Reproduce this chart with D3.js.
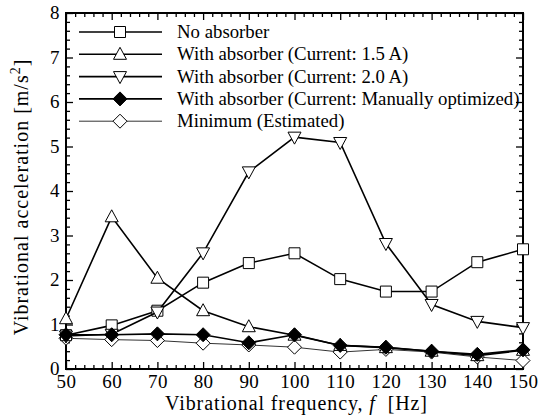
<!DOCTYPE html>
<html>
<head>
<meta charset="utf-8">
<script src="https://cdn.jsdelivr.net/npm/d3@7"></script>
<style>
  body { margin: 0; background: #fff; }
</style>
</head>
<body>
<svg id="svg" width="544" height="416"></svg>
<script>
const WIDTH = 544
const HEIGHT = 416
const LEFT = 66, RIGHT = 523, TOP = 13, BOTTOM = 369
const FONT = '"Liberation Serif", "Times New Roman", Times, serif'

const freqs = [50, 60, 70, 80, 90, 100, 110, 120, 130, 140, 150]
const noAbsorber = [0.76, 0.98, 1.31, 1.94, 2.38, 2.60, 2.02, 1.74, 1.74, 2.40, 2.69]
const current15 = [1.13, 3.42, 2.04, 1.31, 0.95, 0.76, 0.53, 0.48, 0.40, 0.30, 0.42]
const current20 = [0.74, 0.78, 1.28, 2.61, 4.43, 5.21, 5.09, 2.82, 1.45, 1.07, 0.93]
const optimized = [0.77, 0.77, 0.79, 0.77, 0.59, 0.77, 0.53, 0.49, 0.40, 0.33, 0.43]
const minimum = [0.69, 0.66, 0.64, 0.58, 0.54, 0.49, 0.38, 0.44, 0.38, 0.27, 0.19]

const seriesNames = [
  'No absorber',
  'With absorber (Current: 1.5 A)',
  'With absorber (Current: 2.0 A)',
  'With absorber (Current: Manually optimized)',
  'Minimum (Estimated)'
]
const xTicks = [50, 60, 70, 80, 90, 100, 110, 120, 130, 140, 150]
const yTicks = [0, 1, 2, 3, 4, 5, 6, 7, 8]

const SVG = d3.select('#svg')

const x = d3.scaleLinear().domain([50, 150]).range([LEFT, RIGHT])
const y = d3.scaleLinear().domain([0, 8]).range([BOTTOM, TOP])

const xMinor = d3.range(50, 151, 2).filter(v => v % 10 !== 0)
const yMinor = d3.range(0, 8.01, 0.2).filter(v => Math.abs(v - Math.round(v)) > 0.01)

// ticks on all four sides, pointing inward
function addAxis(axis, transform, values, size, labels) {
  const g = SVG.append('g')
    .attr('transform', transform)
    .call(axis.tickValues(values).tickSize(size).tickPadding(labels ? 10 : 0)
      .tickFormat(labels ? d3.format('d') : ''))
  g.attr('font-family', FONT)
  g.select('.domain').remove()
  g.selectAll('line').attr('stroke', '#000').attr('stroke-width', 1.3)
  g.selectAll('text').style('font-size', '19px').style('font-family', FONT)
    .style('letter-spacing', '0.4px').attr('fill', '#000')
  return g
}

addAxis(d3.axisBottom(x), `translate(0,${BOTTOM})`, xMinor, -4, false)
addAxis(d3.axisTop(x), `translate(0,${TOP})`, xMinor, -4, false)
addAxis(d3.axisLeft(y), `translate(${LEFT},0)`, yMinor, -4, false)
addAxis(d3.axisRight(y), `translate(${RIGHT},0)`, yMinor, -4, false)
addAxis(d3.axisTop(x), `translate(0,${TOP})`, xTicks, -7, false)
addAxis(d3.axisRight(y), `translate(${RIGHT},0)`, yTicks, -7, false)

const xAx = addAxis(d3.axisBottom(x), `translate(0,${BOTTOM})`, xTicks, -7, true)
xAx.selectAll('text').attr('y', 6).attr('dy', '0.71em')
const yAx = addAxis(d3.axisLeft(y), `translate(${LEFT},0)`, yTicks, -7, true)
yAx.selectAll('text').attr('x', -6).attr('dy', '0.3em')

SVG.append('rect')
  .attr('x', LEFT).attr('y', TOP)
  .attr('width', RIGHT - LEFT).attr('height', BOTTOM - TOP)
  .attr('fill', 'none').attr('stroke', '#000').attr('stroke-width', 2)

// axis titles
const xTitle = SVG.append('text')
  .attr('x', (LEFT + RIGHT) / 2 + 2).attr('y', 410)
  .attr('text-anchor', 'middle').style('font-size', '20px').style('font-family', FONT)
  .style('letter-spacing', '0.9px')
xTitle.append('tspan').text('Vibrational frequency, ')
xTitle.append('tspan').style('font-style', 'italic').text('f')
xTitle.append('tspan').text('  [Hz]').attr('xml:space', 'preserve')

const yTitle = SVG.append('text')
  .attr('transform', `translate(28,${(TOP + BOTTOM) / 2 + 6}) rotate(-90)`)
  .attr('text-anchor', 'middle').style('font-size', '20px').style('font-family', FONT)
  .style('letter-spacing', '1px')
yTitle.append('tspan').text('Vibrational acceleration [m/s')
yTitle.append('tspan').attr('dy', -8).style('font-size', '14px').text('2')
yTitle.append('tspan').attr('dy', 8).text(']')

// marker shapes
const markers = {
  square: 'M-5.5,-5.5H5.5V5.5H-5.5Z',
  up: 'M0,-7L6.5,5L-6.5,5Z',
  down: 'M0,7L6.5,-5L-6.5,-5Z',
  diamond: 'M0,-7L7,0L0,7L-7,0Z'
}

const series = [
  { name: seriesNames[4], values: minimum, shape: 'diamond', fill: '#fff', stroke: '#333', width: 1 },
  { name: seriesNames[0], values: noAbsorber, shape: 'square', fill: '#fff', stroke: '#000', width: 1.6 },
  { name: seriesNames[1], values: current15, shape: 'up', fill: '#fff', stroke: '#000', width: 1.6 },
  { name: seriesNames[2], values: current20, shape: 'down', fill: '#fff', stroke: '#000', width: 1.6 },
  { name: seriesNames[3], values: optimized, shape: 'diamond', fill: '#000', stroke: '#000', width: 1.6 }
]

const line = d3.line().x(d => x(d[0])).y(d => y(d[1]))

series.forEach(s => {
  const pts = freqs.map((f, i) => [f, s.values[i]])
  SVG.append('path')
    .attr('d', line(pts))
    .attr('fill', 'none').attr('stroke', s.stroke).attr('stroke-width', s.width)
  SVG.append('g').selectAll('path')
    .data(pts).enter().append('path')
    .attr('d', markers[s.shape])
    .attr('transform', d => `translate(${x(d[0])},${y(d[1])})`)
    .attr('fill', s.fill).attr('stroke', '#000').attr('stroke-width', 1)
})

// legend
const legendOrder = [1, 2, 3, 4, 0]
const LEGEND = SVG.append('g')
legendOrder.forEach((si, i) => {
  const s = series[si]
  const ly = 32 + i * 22.3
  LEGEND.append('line')
    .attr('x1', 79).attr('x2', 162).attr('y1', ly).attr('y2', ly)
    .attr('stroke', s.stroke).attr('stroke-width', s.width)
  LEGEND.append('path')
    .attr('d', markers[s.shape])
    .attr('transform', `translate(120,${ly})`)
    .attr('fill', s.fill).attr('stroke', '#000').attr('stroke-width', 1)
  LEGEND.append('text')
    .attr('x', 177).attr('y', ly + 6)
    .style('font-size', '18.8px').style('font-family', FONT)
    .text(s.name)
})
</script>
</body>
</html>
